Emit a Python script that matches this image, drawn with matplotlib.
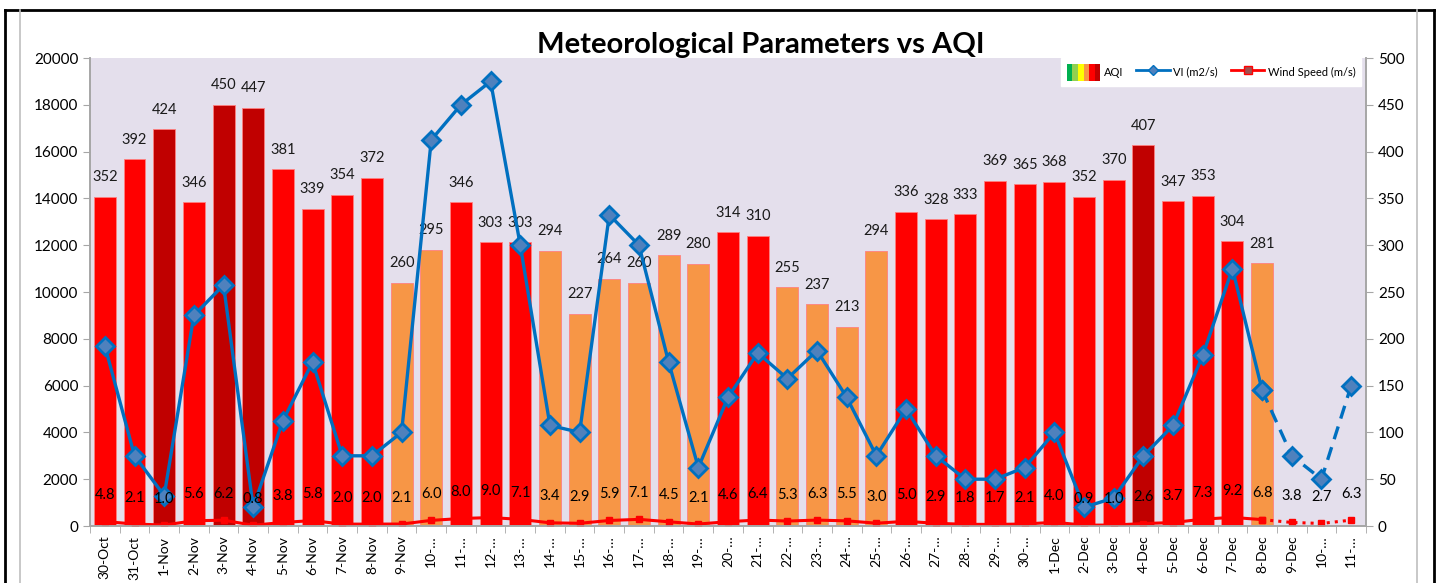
import matplotlib
matplotlib.use("Agg")
import matplotlib.pyplot as plt
from matplotlib.lines import Line2D
from matplotlib.patches import Patch
from matplotlib.legend_handler import HandlerTuple

plt.rcParams['font.family'] = ['Lato', 'DejaVu Sans']

# 日期标签 (Excel 里被截断的长标签)
dates = ["30-Oct", "31-Oct"] + ["%d-Nov" % d for d in range(1, 31)] + ["%d-Dec" % d for d in range(1, 12)]
tick_labels = [d if len(d) <= 5 or d.endswith("Oct") else d.split("-")[0] + "-…" for d in dates]

# AQI (右轴)
aqi = [352, 392, 424, 346, 450, 447, 381, 339, 354, 372,
       260, 295, 346, 303, 303, 294, 227, 264, 260, 289,
       280, 314, 310, 255, 237, 213, 294, 336, 328, 333,
       369, 365, 368, 352, 370, 407, 347, 353, 304, 281]

# VI (m2/s) 左轴
vi = [7700, 3000, 1300, 9000, 10300, 800, 4500, 7000, 3000, 3000,
      4000, 16500, 18000, 19000, 12000, 4300, 4000, 13300, 12000, 7000,
      2500, 5500, 7400, 6300, 7500, 5500, 3000, 5000, 3000, 2000,
      2000, 2500, 4000, 800, 1200, 3000, 4300, 7300, 11000, 5800,
      3000, 2000, 6000]

# 风速 (m/s)
wind = [4.8, 2.1, 1.0, 5.6, 6.2, 0.8, 3.8, 5.8, 2.0, 2.0,
        2.1, 6.0, 8.0, 9.0, 7.1, 3.4, 2.9, 5.9, 7.1, 4.5,
        2.1, 4.6, 6.4, 5.3, 6.3, 5.5, 3.0, 5.0, 2.9, 1.8,
        1.7, 2.1, 4.0, 0.9, 1.0, 2.6, 3.7, 7.3, 9.2, 6.8,
        3.8, 2.7, 6.3]

n_obs = len(aqi)  # 之后是预测值


def aqi_color(v):
    if v > 400:
        return "#C00000"
    if v > 300:
        return "#FF0000"
    return "#F79646"


fig = plt.figure(figsize=(14.42, 5.83), dpi=100)

# 外框
fig.add_artist(Line2D([5 / 1442, 5 / 1442], [0, 1 - 10 / 583], color="black", lw=2))
fig.add_artist(Line2D([1434 / 1442, 1434 / 1442], [0, 1 - 10 / 583], color="black", lw=2))
fig.add_artist(Line2D([5 / 1442, 1434 / 1442], [1 - 10 / 583, 1 - 10 / 583], color="black", lw=2))
fig.add_artist(Line2D([20 / 1442, 20 / 1442], [0, 1 - 10 / 583], color="#BFBFBF", lw=1.2))
fig.add_artist(Line2D([1417 / 1442, 1417 / 1442], [0, 1 - 10 / 583], color="#BFBFBF", lw=1.2))

ax = fig.add_axes([90 / 1442, 1 - 526 / 583, (1366 - 90) / 1442, (526 - 58) / 583])
axr = ax.twinx()
ax.set_zorder(axr.get_zorder() + 1)
ax.patch.set_visible(False)
axr.patch.set_visible(True)
axr.patch.set_facecolor("#E4DFEC")

x = list(range(len(dates)))
xo = x[:n_obs]

# 柱子 AQI
axr.bar(xo, aqi, width=0.74, color=[aqi_color(v) for v in aqi],
        edgecolor="#FF8080", linewidth=0.6, zorder=2)
for i, v in enumerate(aqi):
    axr.annotate(str(v), (i, v), xytext=(0, 14), textcoords="offset points",
                 ha="center", va="center", fontsize=10.5, color="#1a1a1a")

# 风速
axr.plot(xo, wind[:n_obs], color="#FF0000", lw=2.2, marker="s", ms=5,
         mfc="#FF0000", mec="#FF0000", zorder=3)
axr.plot(x[n_obs - 1:], wind[n_obs - 1:], color="#FF0000", lw=2.2, ls=":",
         marker="s", ms=4, mfc="#FF0000", mec="#FF0000", zorder=3)

# VI
ax.plot(xo, vi[:n_obs], color="#0070C0", lw=2.4, marker="D", ms=9,
        mfc="#4F81BD", mec="#0070C0", mew=2)
ax.plot(x[n_obs - 1:], vi[n_obs - 1:], color="#0070C0", lw=2.4, ls=(0, (4, 2.5)),
        marker="D", ms=9, mfc="#4F81BD", mec="#0070C0", mew=2)

# 风速标签画在最上层
for i, v in enumerate(wind):
    ax.annotate("%.1f" % v, (i, v), xycoords=axr.transData, xytext=(0, 19),
                textcoords="offset points", ha="center", va="center",
                fontsize=10.5, color="black", zorder=5)

ax.set_xlim(-0.5, len(dates) - 0.5)
ax.set_ylim(0, 20000)
axr.set_ylim(0, 500)
ax.set_yticks(range(0, 20001, 2000))
axr.set_yticks(range(0, 501, 50))

ax.set_xticks(x)
ax.set_xticklabels(tick_labels, rotation=90, fontsize=10)
ax.set_xticks([i - 0.5 for i in range(len(dates) + 1)], minor=True)
ax.tick_params(axis="x", which="major", length=0, pad=7)
ax.tick_params(axis="x", which="minor", length=5, color="#A6A6A6")
ax.tick_params(axis="y", length=5, color="#A6A6A6", labelsize=11)
axr.tick_params(axis="y", length=5, color="#A6A6A6", labelsize=11)
axr.tick_params(axis="x", length=0)

for a in (ax, axr):
    a.spines["top"].set_visible(False)
    for s in ("left", "right", "bottom"):
        a.spines[s].set_color("#A6A6A6")
        a.spines[s].set_linewidth(1.2)

fig.text(761 / 1442, 1 - 45 / 583, "Meteorological Parameters vs AQI",
         ha="center", va="center", fontsize=21, fontweight="bold")

# 图例
aqi_handle = tuple(Patch(facecolor=c, edgecolor="none") for c in
                   ["#00B050", "#92D050", "#FFFF00", "#F79646", "#FF0000", "#C00000"])
vi_handle = Line2D([], [], color="#0070C0", lw=2, marker="D", ms=5,
                   mfc="#4F81BD", mec="#0070C0")
ws_handle = Line2D([], [], color="#FF0000", lw=2, marker="s", ms=6,
                   mfc="#A05050", mec="#FF0000")
leg = ax.legend([aqi_handle, vi_handle, ws_handle], ["AQI", "VI (m2/s)", "Wind Speed (m/s)"],
                handler_map={tuple: HandlerTuple(ndivide=None, pad=0)},
                loc="upper right", bbox_to_anchor=(0.996, 1.0), ncol=3, fontsize=8,
                frameon=True, fancybox=False, edgecolor="white", framealpha=1,
                handlelength=3.0, handleheight=2.0, columnspacing=1.2, handletextpad=0.3,
                borderpad=0.5, borderaxespad=0)
leg.set_zorder(10)

fig.savefig("out.png", dpi=100)
